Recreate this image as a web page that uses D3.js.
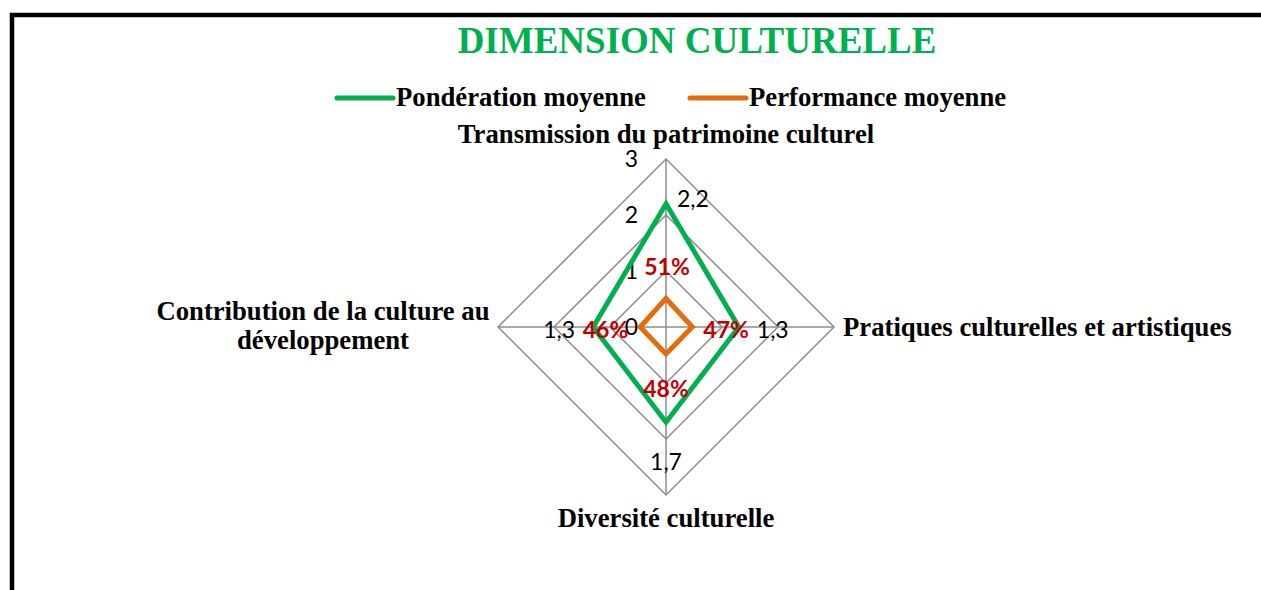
<!DOCTYPE html>
<html>
  <head>
    <meta charset="utf-8">
    <title>Dimension culturelle</title>
    <script src="https://d3js.org/d3.v7.min.js"></script>
    <style>
      body { margin: 0; background: #fff; }
      svg { display: block; }
    </style>
  </head>
  <body>
    <div id="chart"></div>
    <script>
      // data
      var axes = ["Transmission du patrimoine culturel", "Pratiques culturelles et artistiques", "Diversité culturelle", "Contribution de la culture au développement"];
      var ponderation = [2.2, 1.3, 1.7, 1.3];
      var performance = [0.51, 0.47, 0.48, 0.46];
      var ticks = [0, 1, 2, 3];
      var seriesNames = ["Pondération moyenne", "Performance moyenne"];

      var width = 1261, height = 590;
      var cx = 666, cy = 327, radius = 168;
      var green = "#00B050", orange = "#E46C0A", red = "#C00000", grid = "#8C8C8C";
      var serif = "'Liberation Serif', 'Times New Roman', serif";
      var sans = "Lato, 'Open Sans', sans-serif";

      var svg = d3.select("#chart").append("svg")
        .attr("width", width)
        .attr("height", height);

      // frame
      svg.append("rect")
        .attr("x", 12).attr("y", 15)
        .attr("width", 1300).attr("height", 700)
        .attr("fill", "none")
        .attr("stroke", "#000")
        .attr("stroke-width", 4.5);

      svg.append("text")
        .attr("x", 697).attr("y", 53)
        .attr("text-anchor", "middle")
        .style("font-family", serif)
        .style("font-weight", "bold")
        .style("font-size", "37px")
        .attr("fill", green)
        .text("DIMENSION CULTURELLE");

      // legend
      var legend = svg.append("g");
      var legendItems = [{ x: 337, color: green }, { x: 690, color: orange }];
      legendItems.forEach(function(d, i) {
        legend.append("line")
          .attr("x1", d.x).attr("x2", d.x + 56)
          .attr("y1", 98).attr("y2", 98)
          .attr("stroke", d.color)
          .attr("stroke-width", 5)
          .attr("stroke-linecap", "round");
        legend.append("text")
          .attr("x", d.x + 59).attr("y", 106)
          .style("font-family", serif)
          .style("font-weight", "bold")
          .style("font-size", "26.7px")
          .text(seriesNames[i]);
      });

      var r = d3.scaleLinear().domain([0, 3]).range([0, radius]);
      var angle = function(i) { return i * Math.PI / 2; };
      var point = function(v, i) {
        return [cx + r(v) * Math.sin(angle(i)), cy - r(v) * Math.cos(angle(i))];
      };
      var line = d3.line().curve(d3.curveLinearClosed);

      // grid rings
      svg.selectAll(".ring")
        .data(ticks.slice(1))
        .enter().append("path")
          .attr("class", "ring")
          .attr("d", function(t) { return line(axes.map(function(a, i) { return point(t, i); })); })
          .attr("fill", "none")
          .attr("stroke", grid)
          .attr("stroke-width", 1.5);

      // spokes
      svg.selectAll(".spoke")
        .data(axes)
        .enter().append("line")
          .attr("class", "spoke")
          .attr("x1", cx).attr("y1", cy)
          .attr("x2", function(d, i) { return point(3, i)[0]; })
          .attr("y2", function(d, i) { return point(3, i)[1]; })
          .attr("stroke", grid)
          .attr("stroke-width", 1.5);

      // tick labels
      svg.selectAll(".tick")
        .data(ticks)
        .enter().append("text")
          .attr("class", "tick")
          .attr("x", cx - 28)
          .attr("y", function(t) { return cy - r(t) + 8; })
          .attr("text-anchor", "end")
          .style("font-family", sans)
          .style("font-size", "23px")
          .text(function(t) { return t; });

      // series
      [[ponderation, green], [performance, orange]].forEach(function(s) {
        svg.append("path")
          .attr("d", line(s[0].map(point)))
          .attr("fill", "none")
          .attr("stroke", s[1])
          .attr("stroke-width", 5)
          .attr("stroke-linejoin", "miter");
      });

      // value labels, pondération
      var fmt = function(v) { return String(v).replace(".", ","); };
      var pOffsets = [[11, 3, "start"], [18, 11, "start"], [0, 48, "middle"], [-18, 11, "end"]];
      svg.selectAll(".pval")
        .data(ponderation)
        .enter().append("text")
          .attr("class", "pval")
          .attr("x", function(v, i) { return point(v, i)[0] + pOffsets[i][0]; })
          .attr("y", function(v, i) { return point(v, i)[1] + pOffsets[i][1]; })
          .attr("text-anchor", function(v, i) { return pOffsets[i][2]; })
          .style("font-family", sans)
          .style("font-size", "23px")
          .text(fmt);

      // value labels, performance
      var qOffsets = [[1, -23, "middle"], [11, 11, "start"], [0, 43, "middle"], [-12, 11, "end"]];
      svg.selectAll(".qval")
        .data(performance)
        .enter().append("text")
          .attr("class", "qval")
          .attr("x", function(v, i) { return point(v, i)[0] + qOffsets[i][0]; })
          .attr("y", function(v, i) { return point(v, i)[1] + qOffsets[i][1]; })
          .attr("text-anchor", function(v, i) { return qOffsets[i][2]; })
          .style("font-family", sans)
          .style("font-weight", "bold")
          .style("font-size", "23px")
          .attr("fill", red)
          .text(function(v) { return Math.round(v * 100) + "%"; });

      // axis labels
      var axisLabel = function(lines, x, y, anchor) {
        var t = svg.append("text")
          .attr("text-anchor", anchor)
          .style("font-family", serif)
          .style("font-weight", "bold")
          .style("font-size", "26.7px");
        lines.forEach(function(l, k) {
          t.append("tspan").attr("x", x).attr("y", y + k * 29).text(l);
        });
      };
      axisLabel([axes[0]], cx, 143, "middle");
      axisLabel([axes[1]], 843, 336, "start");
      axisLabel([axes[2]], cx, 527, "middle");
      axisLabel(["Contribution de la culture au", "développement"], 323, 320, "middle");
    </script>
  </body>
</html>
